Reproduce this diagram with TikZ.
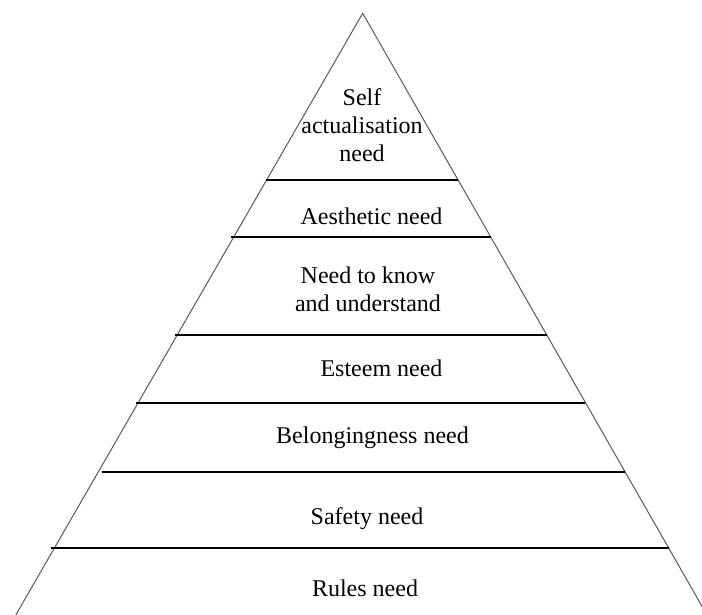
\documentclass[tikz,border=0pt]{standalone}
\usepackage{fontspec}
\setmainfont{Liberation Serif}
\usetikzlibrary{calc}

\begin{document}
\begin{tikzpicture}[x=0.5pt,y=-0.5pt,
  side/.style={draw=black!65,line width=0.5pt},
  tier/.style={draw=black,line width=1pt},
  lbl/.style={font=\fontsize{12}{14}\selectfont,align=center,inner sep=0pt}]
\useasboundingbox (0,0) rectangle (702,615);
\coordinate (top) at (362.7,13.3);
\coordinate (bl) at (15.8,615);
\coordinate (br) at (707,615);
\draw[side] (bl) -- (top) -- (br);
% tier boundaries (height / left overshoot)
\foreach \y/\dx in {180/-1,237/-3,335/-2,402.5/-2,472/4,548/-3}{
  \draw[tier] ($(top)!{(\y-13.3)/601.7}!(bl)+(\dx,0)$) -- ($(top)!{(\y-13.3)/601.7}!(br)$);
}
\node[lbl] (self) at (362,125) {Self\\actualisation\\need};
\node[lbl,anchor=base] (aesthetic) at (371.5,224) {Aesthetic need};
\node[lbl] (know) at (368,289) {Need to know\\and understand};
\node[lbl,anchor=base] (esteem) at (381.5,376) {Esteem need};
\node[lbl,anchor=base] (belong) at (372.5,443) {Belongingness need};
\node[lbl,anchor=base] (safety) at (367,524.5) {Safety need};
\node[lbl,anchor=base] (rules) at (365,596) {Rules need};
\end{tikzpicture}
\end{document}
